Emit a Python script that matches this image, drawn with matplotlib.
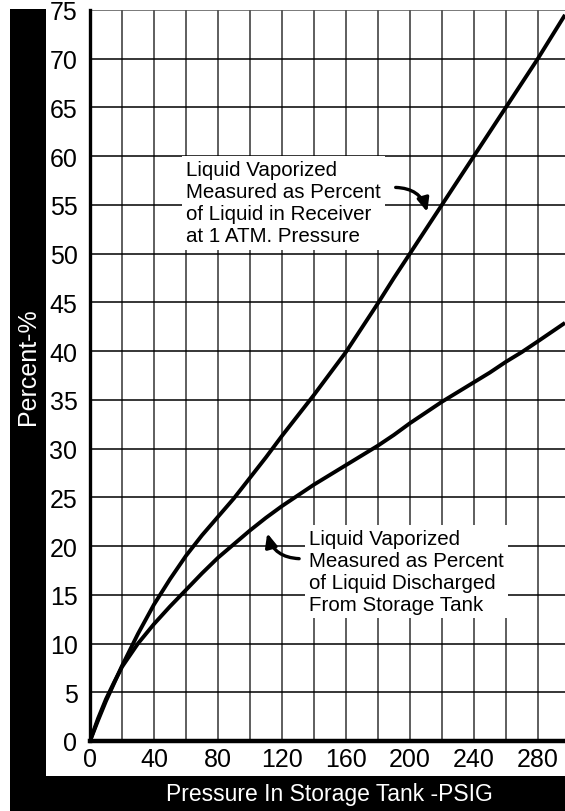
import matplotlib
matplotlib.use('AGG')
import matplotlib.pyplot as plt
from matplotlib.patches import Rectangle

# pressure in storage tank (psig)
pressure = [0, 5, 10, 15, 20, 30, 40, 50, 60, 70, 80, 90, 100, 110, 120, 130, 140, 150,
            160, 170, 180, 190, 200, 210, 220, 230, 240, 250, 260, 270, 280, 297]
# liquid vaporized as % of liquid in receiver at 1 atm
receiver_pct = [0, 2.1, 4.1, 5.9, 7.7, 11.0, 14.0, 16.6, 19.0, 21.1, 23.0, 24.9, 27.0, 29.1,
                31.3, 33.4, 35.5, 37.7, 39.9, 42.4, 44.9, 47.5, 50.0, 52.5, 55.0, 57.5, 60.0,
                62.5, 65.0, 67.5, 70.0, 74.5]
# liquid vaporized as % of liquid discharged from storage tank
discharged_pct = [0, 2.3, 4.3, 6.0, 7.6, 10.0, 12.0, 13.8, 15.5, 17.2, 18.8, 20.2, 21.6, 22.9,
                  24.1, 25.2, 26.3, 27.3, 28.3, 29.3, 30.3, 31.4, 32.6, 33.7, 34.8, 35.8, 36.8,
                  37.8, 38.9, 39.9, 41.0, 42.9]

x_ticks = [0, 40, 80, 120, 160, 200, 240, 280]
y_ticks = list(range(0, 80, 5))

plt.rcParams['font.family'] = ['Liberation Sans', 'DejaVu Sans']

fig = plt.figure(figsize=(5.65, 8.12), dpi=100)

# black frame bars (left and bottom)
fig.patches.append(Rectangle((10/565, 0), 36/565, 802/812, transform=fig.transFigure,
                             facecolor='black', edgecolor='none', zorder=0))
fig.patches.append(Rectangle((10/565, 0), 555/565, 35/812, transform=fig.transFigure,
                             facecolor='black', edgecolor='none', zorder=0))

ax = fig.add_axes([90/565, 70/812, 475/565, 731/812])
ax.set_xlim(0, 297)
ax.set_ylim(0, 75)

# grid
for xv in range(20, 300, 20):
    ax.axvline(xv, color='#333333', lw=1.1, zorder=1)
for yv in range(5, 80, 5):
    ax.axhline(yv, color='black' if yv < 75 else '#555555', lw=1.1, zorder=1)

ax.plot(pressure, receiver_pct, color='black', lw=2.8, zorder=3, solid_capstyle='butt')
ax.plot(pressure, discharged_pct, color='black', lw=2.8, zorder=3, solid_capstyle='butt')

ax.spines['top'].set_visible(False)
ax.spines['right'].set_visible(False)
ax.spines['left'].set_linewidth(2.4)
ax.spines['bottom'].set_linewidth(3.2)
ax.spines['left'].set_zorder(4)
ax.spines['bottom'].set_zorder(4)

ax.set_xticks(x_ticks)
ax.set_yticks(y_ticks)
ax.tick_params(axis='both', length=0, labelsize=18)
ax.tick_params(axis='y', pad=9)
ax.tick_params(axis='x', pad=4)

box = dict(facecolor='white', edgecolor='none', pad=3)
arrow = dict(arrowstyle='-|>,head_length=0.8,head_width=0.35', color='black', lw=2.4,
             connectionstyle='arc3,rad=-0.4')

# annotations
ax.text(60, 55.2, 'Liquid Vaporized\nMeasured as Percent\nof Liquid in Receiver\nat 1 ATM. Pressure',
        fontsize=14.8, ha='left', va='center', bbox=box, zorder=5, linespacing=1.2)
ax.annotate('', xy=(211.3, 54.0), xytext=(189.4, 56.8), arrowprops=arrow, zorder=5)

ax.text(136.9, 17.4, 'Liquid Vaporized\nMeasured as Percent\nof Liquid Discharged\nFrom Storage Tank',
        fontsize=14.8, ha='left', va='center', bbox=box, zorder=5, linespacing=1.2)
ax.annotate('', xy=(110.4, 21.6), xytext=(132.5, 18.7), arrowprops=arrow, zorder=5)

# axis titles in the black bars
fig.text(28/565, (812-367)/812, 'Percent-%', color='white', fontsize=18,
         rotation=90, ha='center', va='center')
fig.text(329/565, (812-795)/812, 'Pressure In Storage Tank -PSIG', color='white', fontsize=16.5,
         ha='center', va='center')

fig.savefig('out.png', dpi=100)
